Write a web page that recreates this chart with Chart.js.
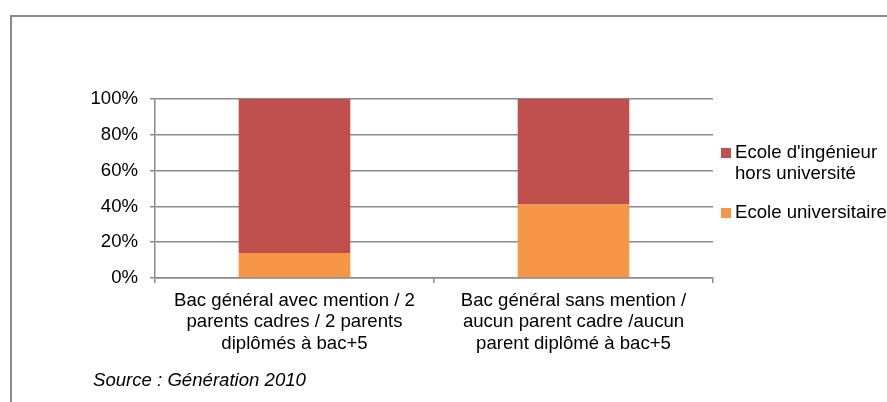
<!DOCTYPE html>
<html>
<head>
<meta charset="utf-8">
<script src="https://cdn.jsdelivr.net/npm/chart.js@4/dist/chart.umd.min.js"></script>
<style>
  html, body { margin: 0; padding: 0; background: #fff; }
  #wrap { width: 887px; height: 402px; position: relative; }
</style>
</head>
<body>
<div id="wrap"><canvas id="c"></canvas></div>
<script>
// Stacked 100% bars: école universitaire vs école d'ingénieur hors université.

const categories = [
  ['Bac général avec mention / 2', 'parents cadres / 2 parents', 'diplômés à bac+5'],
  ['Bac général sans mention /', 'aucun parent cadre /aucun', 'parent diplômé à bac+5'],
];
const univValues = [14, 41];
const ingeValues = [86, 59];
const seriesLabels = ['Ecole universitaire', "Ecole d'ingénieur hors université"];
const legendLines = [['Ecole universitaire'], ["Ecole d'ingénieur", 'hors université']];
const yTicks = [0, 20, 40, 60, 80, 100];
const sourceText = 'Source : Génération 2010';

const FONT = '"Liberation Sans", Arial, sans-serif';
const FS = 18.6;
const GRID = '#8a8a8a';

// frame (top + left lines) and source note
const framePlugin = {
  id: 'frame',
  afterDraw(chart) {
    const ctx = chart.ctx;
    ctx.save();
    ctx.strokeStyle = GRID;
    ctx.lineWidth = 2;
    ctx.beginPath();
    ctx.moveTo(887, 16);
    ctx.lineTo(11, 16);
    ctx.lineTo(11, 402);
    ctx.stroke();
    ctx.fillStyle = '#000';
    ctx.font = `italic ${FS}px ${FONT}`;
    ctx.textBaseline = 'middle';
    ctx.textAlign = 'left';
    ctx.fillText(sourceText, 93, 381);
    ctx.restore();
  },
};

// legend drawn by hand so the long label can wrap on two lines
const legendPlugin = {
  id: 'side-legend',
  afterDraw(chart) {
    const ctx = chart.ctx;
    const ds = chart.data.datasets;
    ctx.save();
    ctx.font = `${FS}px ${FONT}`;
    ctx.textBaseline = 'middle';
    ctx.textAlign = 'left';
    let y = 153;
    for (let i = ds.length - 1; i >= 0; i--) {
      const lines = legendLines[i];
      ctx.fillStyle = ds[i].backgroundColor;
      ctx.fillRect(721, y - 5, 10, 10);
      ctx.fillStyle = '#000';
      lines.forEach((t, k) => ctx.fillText(t, 735, y + k * 21));
      y += lines.length * 21 + 18;
    }
    ctx.restore();
  },
};

new Chart(document.getElementById('c'), {
  type: 'bar',
  data: {
    labels: categories,
    datasets: [
      { label: seriesLabels[0], data: univValues, backgroundColor: '#F79646',
        categoryPercentage: 1, barPercentage: 0.4 },
      { label: seriesLabels[1], data: ingeValues, backgroundColor: '#C0504D',
        categoryPercentage: 1, barPercentage: 0.4 },
    ],
  },
  options: {
    responsive: true, maintainAspectRatio: false, animation: false,
    layout: { padding: { top: 99, right: 174, left: 0, bottom: 0 } },
    scales: {
      x: {
        stacked: true,
        grid: { drawOnChartArea: false, drawTicks: true, tickLength: 5, color: GRID, lineWidth: 1.5, offset: true },
        border: { display: true, color: GRID, width: 1.5 },
        ticks: { color: '#000', font: { family: FONT, size: FS, lineHeight: 1.16 }, padding: 7, maxRotation: 0, autoSkip: false },
        afterFit: s => { s.height = 124; },
      },
      y: {
        stacked: true, min: 0, max: 100,
        afterBuildTicks: s => { s.ticks = yTicks.map(v => ({ value: v })); },
        grid: { color: GRID, lineWidth: 1.5, tickLength: 5, drawTicks: true },
        border: { display: true, color: GRID, width: 1.5 },
        ticks: { color: '#000', font: { family: FONT, size: FS }, padding: 12, callback: v => v + '%' },
        afterFit: s => { s.width = 155; },
      },
    },
    plugins: {
      legend: { display: false },
      tooltip: { enabled: false },
    },
  },
  plugins: [framePlugin, legendPlugin],
});
</script>
</body>
</html>
